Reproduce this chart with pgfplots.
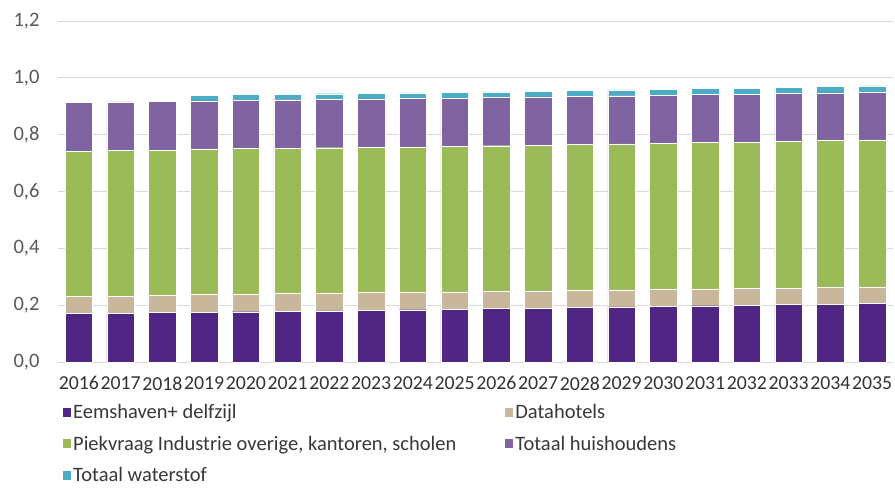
\documentclass[border=0pt]{standalone}
\usepackage{fontspec}
\setmainfont{Carlito}
\usepackage{pgfplots}
\pgfplotsset{compat=1.18}
\usepackage{pgfplotstable}
\definecolor{eems}{HTML}{4F2683}
\definecolor{datah}{HTML}{C9B79C}
\definecolor{piek}{HTML}{9BBB59}
\definecolor{huis}{HTML}{8064A2}
\definecolor{water}{HTML}{4BACC6}
\definecolor{tickgray}{HTML}{595959}
\definecolor{gridgray}{HTML}{D9D9D9}
\pgfplotstableread{
x E D P H W
0 0.170 0.060 0.512 0.172 0.000
1 0.172 0.060 0.512 0.171 0.000
2 0.174 0.060 0.512 0.171 0.000
3 0.175 0.062 0.513 0.169 0.020
4 0.177 0.062 0.512 0.170 0.020
5 0.179 0.062 0.512 0.170 0.020
6 0.180 0.062 0.512 0.170 0.020
7 0.182 0.062 0.512 0.170 0.020
8 0.184 0.062 0.511 0.170 0.020
9 0.186 0.061 0.512 0.170 0.020
10 0.188 0.060 0.513 0.170 0.020
11 0.190 0.060 0.513 0.170 0.020
12 0.192 0.060 0.514 0.170 0.021
13 0.194 0.060 0.514 0.169 0.021
14 0.196 0.059 0.515 0.169 0.021
15 0.198 0.059 0.516 0.169 0.021
16 0.200 0.058 0.516 0.169 0.021
17 0.202 0.058 0.517 0.168 0.022
18 0.204 0.058 0.517 0.168 0.022
19 0.206 0.058 0.518 0.168 0.022
}\datatable
\begin{document}
\begin{tikzpicture}
\begin{axis}[
  at={(0,0)}, anchor=south west,
  scale only axis, width=835bp, height=341bp,
  ybar stacked, bar width=0.66,
  xmin=-0.5, xmax=19.5, ymin=0, ymax=1.2,
  xtick={0,...,19},
  xticklabels={2016,2017,2018,2019,2020,2021,2022,2023,2024,2025,2026,2027,2028,2029,2030,2031,2032,2033,2034,2035},
  ytick={0,0.2,0.4,0.6,0.8,1.0,1.2},
  yticklabel style={/pgf/number format/fixed, /pgf/number format/fixed zerofill, /pgf/number format/precision=1, /pgf/number format/use comma, /pgf/number format/assume math mode=true, xshift=-15bp},
  ymajorgrids, grid style={color=gridgray, line width=0.9bp},
  axis line style={draw=none},
  major tick length=0pt,
  tick label style={font=\fontsize{20.5bp}{24bp}\selectfont, text=tickgray},
  xticklabel style={yshift=-11bp, text=black!80, inner xsep=0pt, font=\fontsize{19.8bp}{24bp}\selectfont},
  legend columns=2,
  legend cell align=left,
  legend style={draw=none, fill=none, at={(0,0)}, anchor=north west, xshift=5bp, yshift=-40bp,
    font=\fontsize{20.5bp}{24bp}\selectfont, text=black!78,
    /tikz/every even column/.append style={column sep=47bp},
    row sep=12bp, inner sep=0pt},
  legend image code/.code={\fill[#1,draw=none] (0bp,-4.5bp) rectangle (8bp,4.5bp);},
  every axis plot/.append style={draw=white, line width=0.4bp},
]
\addplot[fill=eems] table[x=x,y=E]{\datatable};
\addplot[fill=datah] table[x=x,y=D]{\datatable};
\addplot[fill=piek] table[x=x,y=P]{\datatable};
\addplot[fill=huis] table[x=x,y=H]{\datatable};
\addplot[fill=water] table[x=x,y=W]{\datatable};
\legend{Eemshaven+ delfzijl, Datahotels, {Piekvraag Industrie overige, kantoren, scholen}, Totaal huishoudens, Totaal waterstof}
\end{axis}
\pgfresetboundingbox
\path (-58bp,-130bp) rectangle (837bp,362bp);
\end{tikzpicture}
\end{document}
